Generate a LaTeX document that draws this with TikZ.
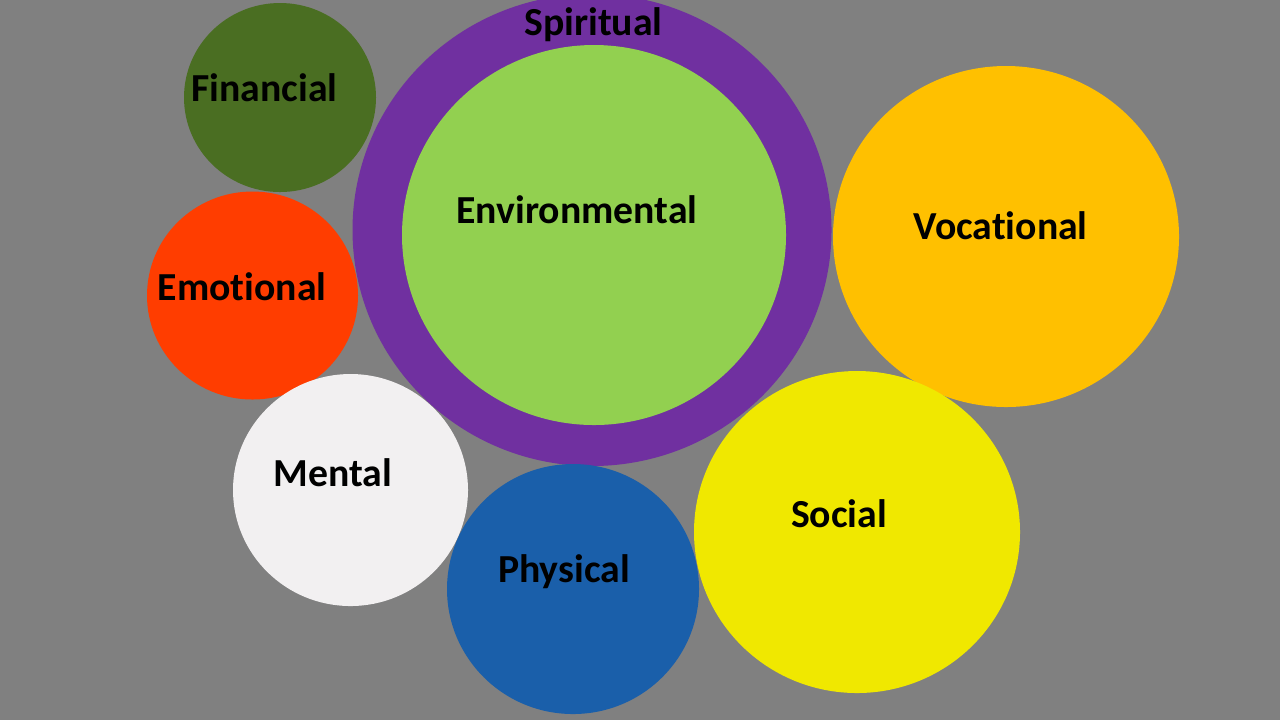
\documentclass[tikz,border=0pt]{standalone}
\usepackage{fontspec}
\setmainfont{Carlito}[Ligatures={NoCommon}]
\usepackage{tikz}
\definecolor{bggray}{HTML}{808080}
\definecolor{finangreen}{HTML}{4A6E22}
\definecolor{spiritpurple}{HTML}{7030A0}
\definecolor{envgreen}{HTML}{92D050}
\definecolor{vocorange}{HTML}{FFC000}
\definecolor{emored}{HTML}{FF3D00}
\definecolor{mentwhite}{HTML}{F2F0F1}
\definecolor{physblue}{HTML}{1A5FAA}
\definecolor{socyellow}{HTML}{F0E800}
\tikzset{lbl/.style={anchor=base,inner sep=0pt,font=\fontsize{11.3}{13}\selectfont\bfseries}}

\begin{document}
\begin{tikzpicture}[x=0.01cm,y=-0.01cm]
\useasboundingbox (0,0) rectangle (1280,720);
\clip (0,0) rectangle (1280,720);
\fill[bggray] (0,0) rectangle (1280,720);
\coordinate (F) at (280,97.5);
\coordinate (S) at (592,230);
\coordinate (En) at (594,235);
\coordinate (V) at (1006,236.5);
\coordinate (Em) at (252.5,295.5);
\coordinate (M) at (350.5,490);
\coordinate (P) at (573,589);
\coordinate (So) at (857,532);
\fill[finangreen] (F) ellipse [x radius=96, y radius=94.5];
\fill[spiritpurple] (S) ellipse [x radius=239.5, y radius=236];
\fill[envgreen] (En) ellipse [x radius=192, y radius=190];
\fill[vocorange] (V) ellipse [x radius=173, y radius=170.5];
\fill[emored] (Em) ellipse [x radius=105.5, y radius=104];
\fill[mentwhite] (M) ellipse [x radius=117.5, y radius=116];
\fill[physblue] (P) ellipse [x radius=126, y radius=125];
\fill[socyellow] (So) ellipse [x radius=163, y radius=161];
\node[lbl] (lfin) at (264.5,101) {Financial};
\node[lbl] (lspi) at (593.5,35) {Spiritual};
\node[lbl] (lenv) at (577,223) {Environmental};
\node[lbl] (lvoc) at (1000.5,239) {Vocational};
\node[lbl] (lemo) at (242,300) {Emotional};
\node[lbl] (lmen) at (333,486) {Mental};
\node[lbl] (lphy) at (564,582) {Physical};
\node[lbl] (lsoc) at (839,527) {Social};
\end{tikzpicture}
\end{document}
